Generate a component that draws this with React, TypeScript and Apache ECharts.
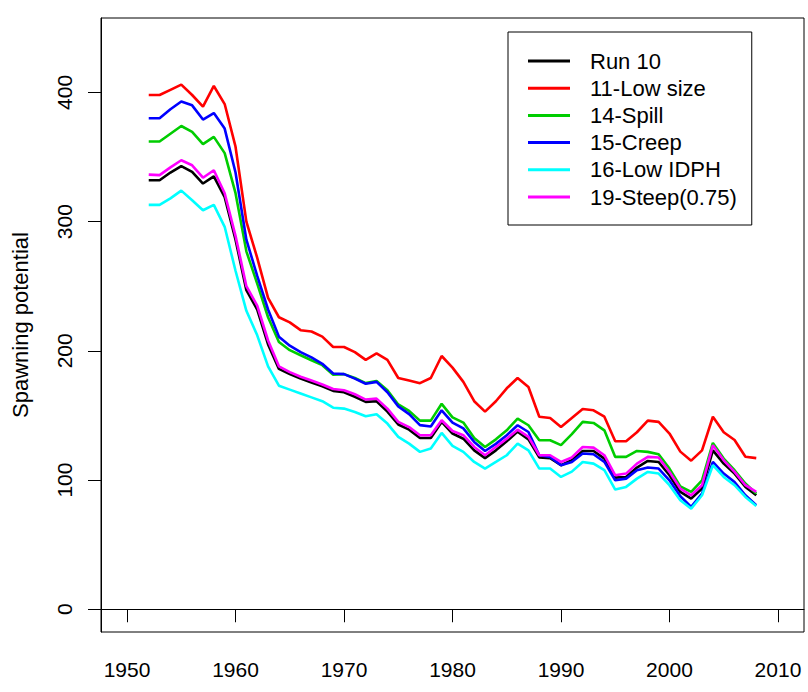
import React, { useEffect, useRef } from "react";
import * as echarts from "echarts";

const years = [
  1952, 1953, 1954, 1955, 1956, 1957, 1958, 1959, 1960, 1961, 1962, 1963, 1964, 1965, 1966, 1967, 1968, 1969,
  1970, 1971, 1972, 1973, 1974, 1975, 1976, 1977, 1978, 1979, 1980, 1981, 1982, 1983, 1984, 1985, 1986, 1987,
  1988, 1989, 1990, 1991, 1992, 1993, 1994, 1995, 1996, 1997, 1998, 1999, 2000, 2001, 2002, 2003, 2004, 2005,
  2006, 2007, 2008,
];

const run10 = [
  332, 332, 338, 343, 338.5, 329.5, 335, 319, 286, 247, 232, 205, 186, 182, 178.5, 175.5, 172.5, 169,
  168, 164.5, 160.5, 161, 153, 143, 139, 132.5, 132.5, 145, 136, 132, 123, 117, 123, 130, 137.5, 131.5,
  117.5, 117, 111.5, 115.3, 122.5, 122.5, 116.6, 101.9, 102.4, 109.7, 114.8, 114, 103.7, 90.8, 85.7, 93.4, 123, 112.7,
  105, 94.7, 88.2,
];
const lowSize = [
  398, 398, 402, 406, 398, 389, 405, 391, 358, 300, 272, 241, 226, 222, 216, 215, 211, 203,
  203, 199, 193, 198, 193, 179, 177, 175, 179, 196, 187, 176, 161, 153, 161, 171, 179, 172,
  149, 148, 141, 148, 155, 154, 149, 130, 130, 137, 146, 145, 136, 122, 115, 123, 149, 137,
  131, 118, 117,
];
const spill = [
  362, 362, 368, 374, 369.5, 360, 365.6, 353, 322, 277, 252, 226, 206.9, 200.5, 196.6, 192.7, 188.9, 181.5,
  182, 179, 175, 176.7, 169.5, 158.5, 153.5, 146, 146, 159, 148.5, 144.5, 132.5, 125.6, 131.5, 138.5, 147.6, 142.4,
  130.8, 130.8, 127, 135.5, 145, 144.2, 138.5, 117.9, 117.9, 122.5, 121.8, 120, 108.9, 95, 90.8, 99.8, 128.7, 116.6,
  107.6, 97.3, 89.5,
];
const creep = [
  380, 380, 387, 393, 390, 379, 384, 372, 338, 286, 258, 232, 211, 204, 199, 195, 190, 182.5,
  182, 178.5, 174.5, 176, 168, 157, 151, 142.5, 141.5, 154, 144.5, 140, 129.5, 122.5, 128, 134.7, 142.4, 137.2,
  119.2, 117.9, 111.5, 114, 120.5, 120, 114, 99.8, 101.1, 107.6, 109.7, 108.9, 99.8, 87.5, 79.2, 89.5, 114, 105,
  98.5, 88.2, 80.5,
];
const lowIDPH = [
  313, 313, 318, 324, 316.6, 308.8, 313, 296, 262, 231, 212, 188, 173, 170, 167, 164, 161, 156,
  155.3, 152.7, 149.4, 151, 143.7, 133.4, 128.2, 121.8, 124.4, 136.5, 126.5, 121.8, 114, 108.9, 114, 119.2, 128.2, 123,
  108.9, 108.9, 102.4, 106.5, 114, 112.7, 107.6, 92.6, 94.7, 101.1, 106.3, 105, 96, 84.4, 77.9, 88.2, 111.5, 102.4,
  96, 86.9, 80,
];
const steep = [
  336.4, 336, 342, 347.5, 343.6, 334, 339.8, 322, 289, 250, 235, 208, 188, 183.5, 180, 177, 174, 170.5,
  169.5, 166.4, 162.3, 163, 155.3, 145, 141, 134.7, 134.7, 146.3, 138, 134.7, 125.6, 119.2, 125.6, 132, 139, 133.4,
  119.2, 119.2, 114, 117.5, 125.6, 125.1, 119.2, 103.7, 105, 112.7, 117.9, 117.4, 106.3, 93.4, 88.2, 96, 127, 115.3,
  106.3, 96, 90.8,
];

const seriesNames = ["Run 10", "11-Low size", "14-Spill", "15-Creep", "16-Low IDPH", "19-Steep(0.75)"];
const seriesValues = [run10, lowSize, spill, creep, lowIDPH, steep];
const seriesColors = ["#000000", "#FF0000", "#00CD00", "#0000FF", "#00FFFF", "#FF00FF"];

const xTicks = [1950, 1960, 1970, 1980, 1990, 2000, 2010];
const yTicks = [0, 100, 200, 300, 400];
const yTitle = "Spawning potential";

const FONT = "'Liberation Sans', Arial, sans-serif";

export default function App() {
  const ref = useRef<HTMLDivElement>(null);
  useEffect(() => {
    if (!ref.current) return;
    const chart = echarts.init(ref.current, null, { renderer: "svg" });
    chart.setOption({
      animation: false,
      backgroundColor: "#ffffff",
      textStyle: { fontFamily: FONT },
      grid: {
        left: 101,
        top: 18,
        right: 4,
        bottom: 60,
        show: true,
        borderColor: "#000",
        borderWidth: 1,
        backgroundColor: "transparent",
      },
      legend: {
        orient: "vertical",
        left: 508,
        top: 32,
        width: 245,
        padding: [18, 15, 17, 20],
        borderColor: "#000",
        borderWidth: 1,
        itemWidth: 42,
        itemHeight: 3,
        itemGap: 5.2,
        icon: "rect",
        textStyle: {
          fontFamily: FONT,
          fontSize: 22,
          lineHeight: 22,
          color: "#000",
          padding: [0, 0, 0, 15],
        },
        data: seriesNames.map((n, i) => ({ name: n, itemStyle: { color: seriesColors[i] } })),
      },
      xAxis: {
        type: "value",
        min: 1947.6,
        max: 2012.4,
        axisLine: { show: true, lineStyle: { color: "#000", width: 1 } },
        axisTick: { show: true, length: 13, customValues: xTicks, lineStyle: { color: "#000", width: 1 } },
        axisLabel: {
          customValues: xTicks,
          formatter: (v: number) => String(v),
          fontSize: 21,
          color: "#000",
          margin: 27,
          fontFamily: FONT,
        },
        splitLine: { show: false },
      },
      yAxis: {
        type: "value",
        min: -17.6,
        max: 457.6,
        name: yTitle,
        nameLocation: "middle",
        nameGap: 70,
        nameTextStyle: { fontSize: 22, color: "#000", fontFamily: FONT },
        axisLine: { show: true, lineStyle: { color: "#000", width: 1 } },
        axisTick: { show: true, length: 13, customValues: yTicks, lineStyle: { color: "#000", width: 1 } },
        axisLabel: {
          customValues: yTicks,
          formatter: (v: number) => String(v),
          rotate: 90,
          fontSize: 21,
          color: "#000",
          margin: 26,
          fontFamily: FONT,
        },
        splitLine: { show: false },
      },
      series: seriesNames.map((name, i) => ({
        name,
        type: "line",
        data: years.map((y, j) => [y, seriesValues[i][j]]),
        showSymbol: false,
        symbol: "none",
        lineStyle: { color: seriesColors[i], width: 2.6 },
        itemStyle: { color: seriesColors[i] },
        clip: true,
      })),
    });
    return () => chart.dispose();
  }, []);
  return (
    <div
      ref={ref}
      style={{ position: "fixed", left: 0, top: 0, width: 808, height: 692, background: "#fff" }}
    />
  );
}
